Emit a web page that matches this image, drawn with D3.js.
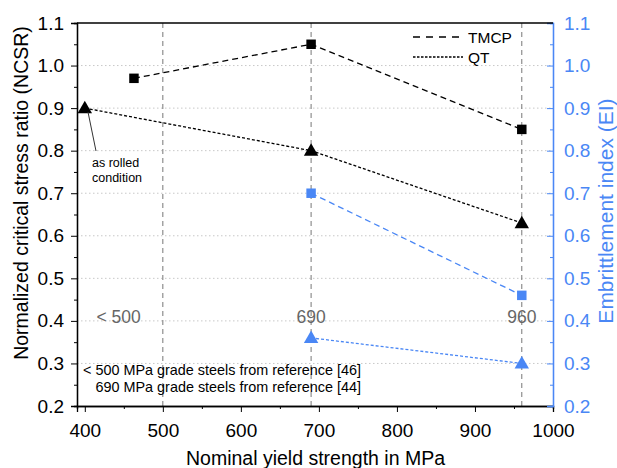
<!DOCTYPE html>
<html><head><meta charset="utf-8">
<script src="https://cdn.jsdelivr.net/npm/d3@7"></script>
<style>body{margin:0;background:#fff}svg{font-family:"Liberation Sans",Arial,sans-serif}</style>
</head><body><svg id="c" width="617" height="468"></svg>
<script>
const tmcpX=[463,690,960], tmcpNCSR=[0.97,1.05,0.85];
const qtX=[400,690,960], qtNCSR=[0.90,0.80,0.63];
const eiX=[690,960], tmcpEI=[0.70,0.46], qtEI=[0.36,0.30];
const gradeLines=[500,690,960];
const gradeLabels=[{x:415,t:"< 500",anchor:"start"},{x:690,t:"690",anchor:"middle"},{x:960,t:"960",anchor:"middle"}];
const xTicks=[400,500,600,700,800,900,1000];
const yTicks=[0.2,0.3,0.4,0.5,0.6,0.7,0.8,0.9,1.0,1.1];
const blue="#4a87f5";
const svg=d3.select("#c");
const L=77,R=553,T=23,B=406;
const x=d3.scaleLinear().domain([390,1000]).range([L,R]);
const y=d3.scaleLinear().domain([0.2,1.1]).range([B,T]);
const y2=d3.scaleLinear().domain([0.2,1.1]).range([B,T]);
// grid
svg.append("g").selectAll("line").data(yTicks.slice(1,-1)).join("line")
 .attr("x1",L).attr("x2",R).attr("y1",d=>y(d)).attr("y2",d=>y(d))
 .attr("stroke","#c8c8c8").attr("stroke-dasharray","1.5,2.5");
svg.append("g").selectAll("line").data(gradeLines).join("line")
 .attr("x1",d=>x(d)).attr("x2",d=>x(d)).attr("y1",T).attr("y2",B)
 .attr("stroke","#777").attr("stroke-dasharray","5,4");
// grade labels
svg.append("g").selectAll("text").data(gradeLabels).join("text")
 .attr("x",d=>x(d.x)).attr("y",y(0.4)+2)
 .attr("text-anchor",d=>d.anchor)
 .attr("fill","#666").attr("font-size",17.5).text(d=>d.t);
// axes
const fmt=d3.format(".1f");
const xa=svg.append("g").attr("transform",`translate(0,${B})`)
 .call(d3.axisBottom(x).tickValues(xTicks).tickSize(6).tickPadding(11.5).tickFormat(d3.format("d")));
svg.append("g").attr("transform",`translate(0,${B})`)
 .call(d3.axisBottom(x).tickValues([450,550,650,750,850,950]).tickSize(3).tickFormat(""));
const ya=svg.append("g").attr("transform",`translate(${L},0)`)
 .call(d3.axisLeft(y).tickValues(yTicks).tickSize(6).tickPadding(7).tickFormat(fmt));
svg.append("g").attr("transform",`translate(${L},0)`)
 .call(d3.axisLeft(y).tickValues(d3.range(0.25,1.1,0.1)).tickSize(3).tickFormat(""));
const ya2=svg.append("g").attr("transform",`translate(${R},0)`)
 .call(d3.axisRight(y2).tickValues(yTicks).tickSize(-6).tickPadding(11).tickFormat(fmt));
const ya2m=svg.append("g").attr("transform",`translate(${R},0)`)
 .call(d3.axisRight(y2).tickValues(d3.range(0.25,1.1,0.1)).tickSize(-3).tickFormat(""));
svg.selectAll(".domain").attr("stroke","#000").attr("stroke-width",1.3);
[xa,ya].forEach(g=>g.selectAll("text").attr("font-size",19).attr("fill","#000"));
[ya2,ya2m].forEach(g=>{g.selectAll("line,path").attr("stroke",blue);g.select(".domain").attr("stroke",blue);});
ya2.selectAll("text").attr("font-size",19).attr("fill",blue);
// top border
svg.append("line").attr("x1",L).attr("x2",R).attr("y1",T).attr("y2",T).attr("stroke","#000").attr("stroke-width",1.3);
// series
const line=d3.line();
function series(xs,ys,sc,color,dash,shape){
  const pts=xs.map((v,i)=>[x(v),sc(ys[i])]);
  svg.append("path").attr("d",line(pts)).attr("fill","none").attr("stroke",color).attr("stroke-width",1.3).attr("stroke-dasharray",dash);
  const sym=d3.symbol().type(shape==="sq"?d3.symbolSquare:d3.symbolTriangle).size(90);
  svg.append("g").selectAll("path").data(pts).join("path")
   .attr("transform",d=>`translate(${d[0]},${d[1]+(shape==="sq"?0:1)})`).attr("d",sym).attr("fill",color);
}
series(tmcpX,tmcpNCSR,y,"#000","6,4","sq");
series(qtX,qtNCSR,y,"#000","3,2","tri");
series(eiX,tmcpEI,y2,blue,"6,4","sq");
series(eiX,qtEI,y2,blue,"3,2","tri");
// legend
const lg=svg.append("g");
lg.append("line").attr("x1",413).attr("x2",463).attr("y1",37).attr("y2",37).attr("stroke","#000").attr("stroke-width",1.3).attr("stroke-dasharray","7,6");
lg.append("line").attr("x1",413).attr("x2",463).attr("y1",57).attr("y2",57).attr("stroke","#000").attr("stroke-width",1.3).attr("stroke-dasharray","2.5,1.5");
lg.append("text").attr("x",468).attr("y",43).attr("font-size",15.5).text("TMCP");
lg.append("text").attr("x",468).attr("y",62.5).attr("font-size",15.5).text("QT");
// annotation
svg.append("line").attr("x1",88).attr("y1",112).attr("x2",96).attr("y2",151).attr("stroke","#333").attr("stroke-width",1);
svg.append("text").attr("x",92).attr("y",166.5).attr("font-size",12.5).text("as rolled");
svg.append("text").attr("x",92).attr("y",181.5).attr("font-size",12.5).text("condition");
svg.append("text").attr("x",83).attr("y",374.5).attr("font-size",14.4).text("< 500 MPa grade steels from reference [46]");
svg.append("text").attr("x",95.5).attr("y",391.7).attr("font-size",14.4).text("690 MPa grade steels from reference [44]");
// titles
svg.append("text").attr("transform",`translate(28,193) rotate(-90)`).attr("text-anchor","middle").attr("font-size",19.5).text("Normalized critical stress ratio (NCSR)");
svg.append("text").attr("transform",`translate(613,211) rotate(-90)`).attr("text-anchor","middle").attr("font-size",21).attr("fill",blue).text("Embrittlement index (EI)");
svg.append("text").attr("x",315.5).attr("y",465).attr("text-anchor","middle").attr("font-size",19.5).text("Nominal yield strength in MPa");
</script></body></html>
